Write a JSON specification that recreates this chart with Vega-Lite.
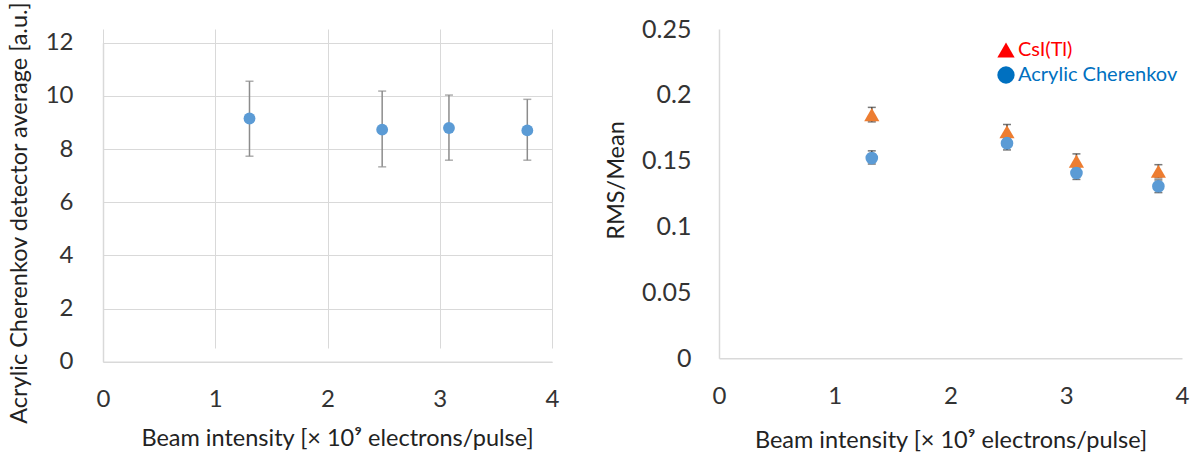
{
  "$schema": "https://vega.github.io/schema/vega-lite/v6.json",
  "background": "white",
  "autosize": {"type": "none"},
  "padding": {"left": 103, "top": 29, "right": 18, "bottom": 100.3},
  "width": 1079,
  "height": 332.7,
  "config": {
    "font": "Lato",
    "view": {"stroke": null},
    "axis": {
      "grid": true,
      "gridColor": "#D9D9D9",
      "gridWidth": 1,
      "domainColor": "#D9D9D9",
      "domainWidth": 1.5,
      "ticks": false,
      "labelFontSize": 24,
      "labelColor": "#333333",
      "titleFontSize": 23.5,
      "titleFontWeight": "normal",
      "titleColor": "#222222",
      "labelFlush": false,
      "labelOverlap": false
    }
  },
  "datasets": {
    "avg": [
      {"beam": 1.305, "mean": 9.15, "lo": 7.73, "hi": 10.55},
      {"beam": 2.487, "mean": 8.73, "lo": 7.33, "hi": 10.18},
      {"beam": 3.082, "mean": 8.79, "lo": 7.58, "hi": 10.03},
      {"beam": 3.78, "mean": 8.70, "lo": 7.58, "hi": 9.87}
    ],
    "rms": [
      {"series": "CsI(Tl)", "beam": 1.32, "val": 0.185, "lo": 0.1795, "hi": 0.1905},
      {"series": "CsI(Tl)", "beam": 2.488, "val": 0.172, "lo": 0.1665, "hi": 0.1775},
      {"series": "CsI(Tl)", "beam": 3.088, "val": 0.1497, "lo": 0.1445, "hi": 0.1552},
      {"series": "CsI(Tl)", "beam": 3.796, "val": 0.142, "lo": 0.137, "hi": 0.147},
      {"series": "Acrylic Cherenkov", "beam": 1.32, "val": 0.152, "lo": 0.1475, "hi": 0.1575},
      {"series": "Acrylic Cherenkov", "beam": 2.488, "val": 0.1633, "lo": 0.1582, "hi": 0.1684},
      {"series": "Acrylic Cherenkov", "beam": 3.088, "val": 0.1407, "lo": 0.1358, "hi": 0.1456},
      {"series": "Acrylic Cherenkov", "beam": 3.796, "val": 0.1306, "lo": 0.1258, "hi": 0.1354}
    ]
  },
  "layer": [
    {
      "data": {"name": "avg"},
      "encoding": {
        "x": {
          "field": "beam", "type": "quantitative",
          "title": "Beam intensity [× 10⁹ electrons/pulse]",
          "scale": {"domain": [0, 4], "nice": false, "range": [0, 449]},
          "axis": {"orient": "bottom", "offset": 0, "values": [0, 1, 2, 3, 4], "format": "d", "labelPadding": 26, "titlePadding": 15, "titleAlign": "center", "titleX": 234}
        }
      },
      "layer": [
        {
          "mark": {"type": "errorbar", "color": "#8C8C8C", "thickness": 1.5, "ticks": {"size": 8, "thickness": 1.5}},
          "encoding": {
            "y": {
              "field": "lo", "type": "quantitative",
              "title": "Acrylic Cherenkov detector average [a.u.]",
              "scale": {"domain": [0, 12], "nice": false, "range": [332.7, 13.7]},
              "axis": {"orient": "left", "offset": 0, "values": [0, 2, 4, 6, 8, 10, 12], "labelPadding": 30, "titlePadding": 14, "titleAlign": "center", "titleY": 183.5}
            },
            "y2": {"field": "hi"}
          }
        },
        {
          "mark": {"type": "point", "filled": true, "opacity": 1, "size": 140, "color": "#5B9BD5"},
          "encoding": {
            "y": {
              "field": "mean", "type": "quantitative",
              "title": "Acrylic Cherenkov detector average [a.u.]"
            }
          }
        }
      ]
    },
    {
      "data": {"name": "rms"},
      "encoding": {
        "x": {
          "field": "beam", "type": "quantitative",
          "title": "Beam intensity [× 10⁹ electrons/pulse]",
          "scale": {"domain": [0, 4], "nice": false, "range": [616, 1079]},
          "axis": {"orient": "bottom", "offset": -3.4, "values": [0, 1, 2, 3, 4], "format": "d", "labelPadding": 26, "titlePadding": 20}
        },
        "y": {"field": "val", "type": "quantitative", "title": "RMS/Mean"},
        "shape": {
          "field": "series", "type": "nominal",
          "scale": {"domain": ["CsI(Tl)", "Acrylic Cherenkov"], "range": ["triangle-up", "circle"]},
          "legend": null
        }
      },
      "layer": [
        {
          "mark": {"type": "errorbar", "color": "#404040", "thickness": 1.5, "ticks": {"size": 8, "thickness": 1.5}},
          "encoding": {
            "y": {
              "field": "lo", "type": "quantitative",
              "title": "RMS/Mean",
              "scale": {"domain": [0, 0.25], "nice": false, "range": [329.3, 0]},
              "axis": {"orient": "left", "offset": -616, "values": [0, 0.05, 0.1, 0.15, 0.2, 0.25], "format": "~g", "labelFontSize": 25, "labelPadding": 28, "titlePadding": 13, "titleAlign": "center", "titleY": 151}
            },
            "y2": {"field": "hi"},
            "shape": null
          }
        },
        {
          "mark": {"type": "point", "filled": true, "opacity": 1},
          "encoding": {
            "color": {
              "field": "series", "type": "nominal",
              "scale": {"domain": ["CsI(Tl)", "Acrylic Cherenkov"], "range": ["#ED7D31", "#5B9BD5"]},
              "legend": null
            },
            "size": {
              "field": "series", "type": "nominal",
              "scale": {"domain": ["CsI(Tl)", "Acrylic Cherenkov"], "range": [230, 160]},
              "legend": null
            }
          }
        },
        {
          "mark": {"type": "point", "filled": true, "opacity": 1, "size": 0},
          "encoding": {
            "color": {
              "field": "series", "type": "nominal",
              "scale": {"domain": ["CsI(Tl)", "Acrylic Cherenkov"], "range": ["#FF0000", "#0070C0"]},
              "legend": {
                "title": null,
                "orient": "none",
                "legendX": 893,
                "legendY": 11,
                "padding": 0,
                "symbolSize": 300,
                "labelFontSize": 20,
                "labelOffset": 2,
                "rowPadding": 5,
                "encoding": {
                  "symbols": {
                    "shape": {"condition": {"test": "datum.value === 'CsI(Tl)'", "value": "triangle-up"}, "value": "circle"}
                  },
                  "labels": {"fill": {"condition": {"test": "datum.value === 'CsI(Tl)'", "value": "#FF0000"}, "value": "#0070C0"}}
                }
              }
            }
          }
        }
      ],
      "resolve": {"scale": {"color": "independent", "size": "independent"}}
    }
  ],
  "resolve": {
    "scale": {"x": "independent", "y": "independent", "color": "independent", "shape": "independent", "size": "independent"},
    "axis": {"x": "independent", "y": "independent"}
  }
}
